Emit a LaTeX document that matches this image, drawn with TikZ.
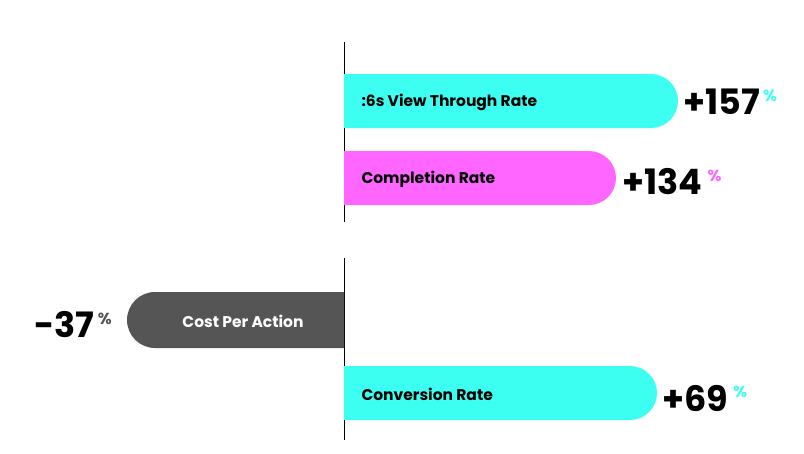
\documentclass[tikz,border=0pt]{standalone}
\usepackage{fontspec}
\setmainfont{Poppins}[UprightFont=* Bold]
\definecolor{barcyan}{HTML}{3CFFF2}
\definecolor{barpink}{HTML}{FF66FF}
\definecolor{bargray}{HTML}{555555}
\tikzset{
  bartext/.style={font=\fontsize{15.5}{18}\selectfont, anchor=west},
  bignum/.style={font=\fontsize{35}{38}\selectfont, anchor=west, inner sep=0pt},
  pct/.style={font=\fontsize{16}{17}\selectfont, anchor=north west, inner sep=0pt}
}
\begin{document}
\begin{tikzpicture}[x=1pt,y=-1pt]
                \useasboundingbox (0,0) rectangle (804,453);
                % axes
                \draw[line width=1pt] (344,42) -- (344,222);
                \draw[line width=1pt] (344,258) -- (344,440);

                % bars
                \fill[barcyan] (344,74) -- (651,74)
                    arc[start angle=-90,end angle=90,radius=27] -- (344,128) -- cycle;
                \fill[barpink] (344,151) -- (589,151)
                    arc[start angle=-90,end angle=90,radius=27] -- (344,205) -- cycle;
                \fill[bargray] (344,292) -- (155,292)
                    arc[start angle=270,end angle=90,radius=28] -- (344,348) -- cycle;
                \fill[barcyan] (344,366) -- (630,366)
                    arc[start angle=-90,end angle=90,radius=27] -- (344,420) -- cycle;

                % labels
                \node[bartext] (view) at (358,102) {:6s View Through Rate};
                \node[bartext] (compl) at (358,179) {Completion Rate};
                \node[bartext, text=white, anchor=center] (cpa) at (243,321) {Cost Per Action};
                \node[bartext] (conv) at (358,394) {Conversion Rate};

                % values
                \node[bignum] (n1) at (683,102) {+157};
                \node[pct, text=barcyan] at ([xshift=3pt,yshift=-1pt]n1.north east) {\%};
                \node[bignum] (n2) at (622,182) {+134};
                \node[pct, text=barpink] at ([xshift=5pt,yshift=-1pt]n2.north east) {\%};
                \node[bignum] (n3) at (34,325) {-37};
                \node[pct, text=bargray] at ([xshift=3pt,yshift=-1pt]n3.north east) {\%};
                \node[bignum] (n4) at (662,398) {+69};
                \node[pct, text=barcyan] at ([xshift=5pt,yshift=-1pt]n4.north east) {\%};
\end{tikzpicture}
\end{document}
